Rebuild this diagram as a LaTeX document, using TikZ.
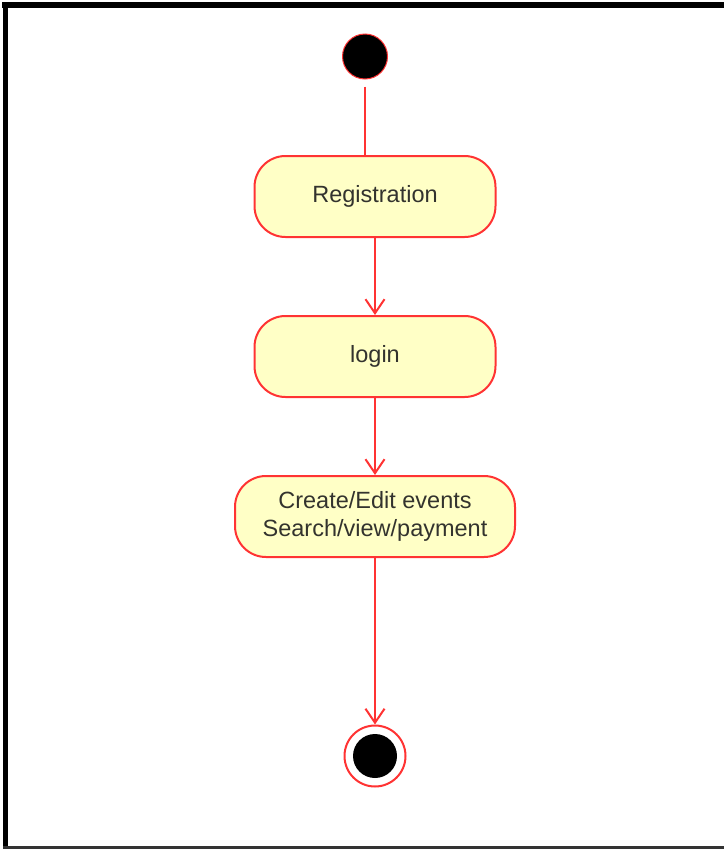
\documentclass[tikz,border=0pt]{standalone}
\usepackage{fontspec}
\setmainfont{Liberation Sans}
\usetikzlibrary{arrows.meta}
\definecolor{umlred}{HTML}{FF3333}
\definecolor{umlfill}{HTML}{FFFFC6}
\definecolor{umltext}{HTML}{33332E}
\tikzset{
  action/.style={draw=umlred, fill=umlfill, line width=2pt, rounded corners=31pt,
    minimum height=81pt, inner sep=0pt, align=center, text=umltext,
    font=\fontsize{23.5pt}{28pt}\selectfont},
  flow/.style={draw=umlred, line width=2pt,
    -{Straight Barb[length=14pt, width=19pt, line width=2pt]}},
  plainflow/.style={draw=umlred, line width=2pt},
  startdot/.style={circle, fill=black, draw=umlred, line width=1pt, minimum size=45pt, inner sep=0pt},
  enddot/.style={circle, fill=black, minimum size=44pt, inner sep=0pt},
  endring/.style={circle, draw=umlred, line width=2pt, minimum size=61pt, inner sep=0pt}
}
\begin{document}
\begin{tikzpicture}[x=1pt, y=-1pt]
  \useasboundingbox (0,0) rectangle (724,849);
  \fill[white] (0,0) rectangle (724,849);
  % frame
  \fill[black] (2,2) rectangle (724,7.5);
  \fill[black] (2.5,2) rectangle (7.5,849);
  \fill[black!80] (2.5,846) rectangle (724,848.5);

  % nodes
  \node[startdot] (start) at (365,56.5) {};
  \node[action, minimum width=241pt] (reg) at (375,196.5) {Registration};
  \node[action, minimum width=241pt] (login) at (375,356.5) {login};
  \node[action, minimum width=280pt] (create) at (375,516.5) {Create/Edit events\\Search/view/payment};
  \node[endring] (endo) at (375,756) {};
  \node[enddot] (endi) at (375,756) {};

  % connectors
  \coordinate (regtop) at (reg.north -| start);
  \draw[plainflow] ([yshift=-7pt]start.south) -- (regtop);
  \draw[flow] (reg.south) -- (login.north);
  \draw[flow] (login.south) -- (create.north);
  \draw[flow] (create.south) -- (endo.north);
\end{tikzpicture}
\end{document}
